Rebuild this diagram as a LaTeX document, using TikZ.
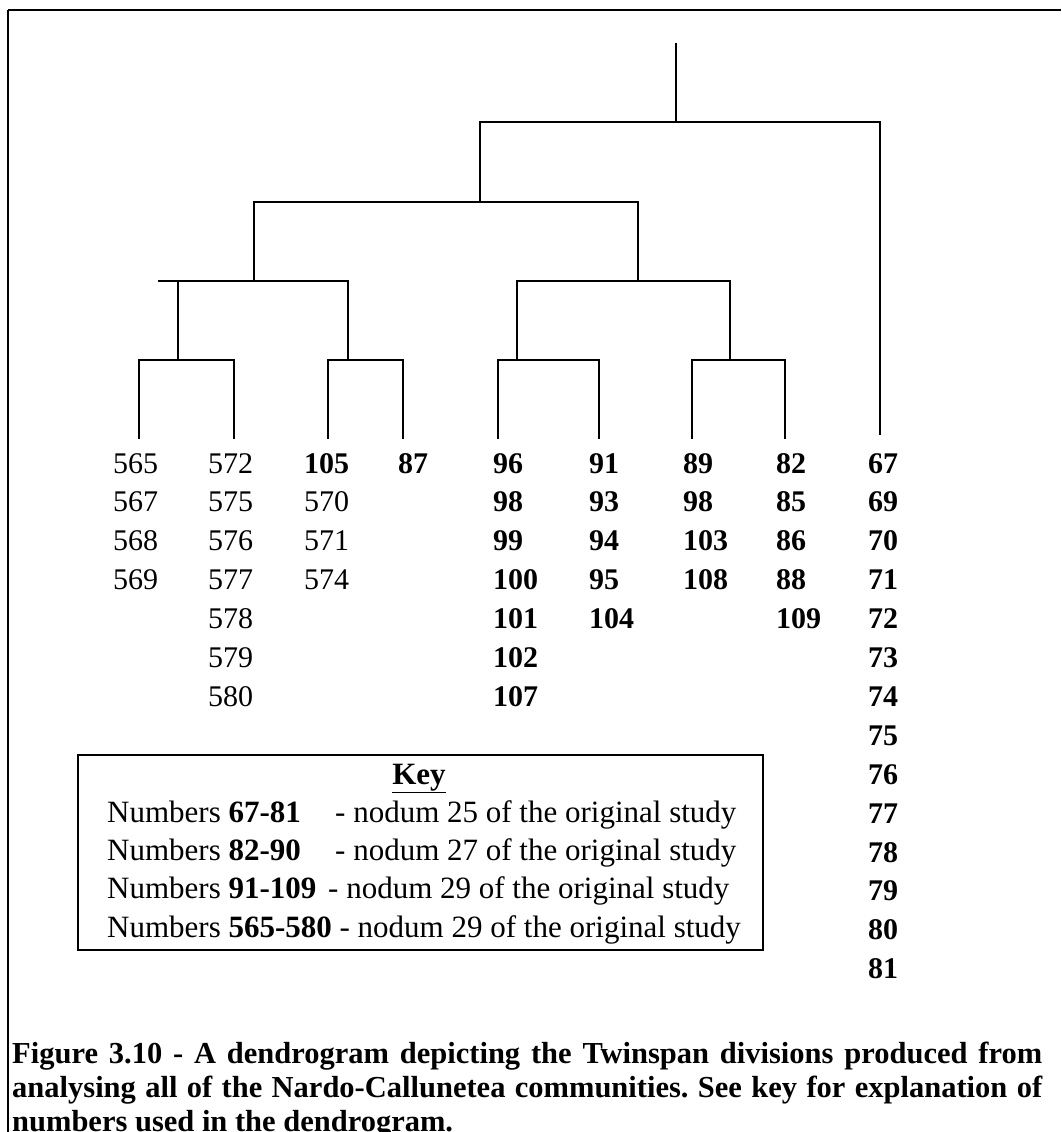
\documentclass[tikz,border=0pt]{standalone}
\usepackage{fontspec}
\setmainfont{Liberation Serif}
\frenchspacing
\begin{document}
\begin{tikzpicture}[x=1pt,y=-1pt,
  hbar/.style={line width=2.6pt,line cap=rect},
  vbar/.style={line width=2pt},
  framel/.style={line width=2.6pt},
  num/.style={anchor=base west,inner sep=0pt,font=\fontsize{30}{36}\selectfont},
  bnum/.style={num,font=\fontsize{30}{36}\selectfont\bfseries},
  keytext/.style={anchor=base west,inner sep=0pt,font=\fontsize{31}{36}\selectfont},
  captext/.style={anchor=base west,inner sep=0pt,font=\fontsize{30.5}{36}\selectfont\bfseries}]
\useasboundingbox (0,0) rectangle (1061,1132);
% frame (top and left edges visible)
\coordinate (fTL) at (8,10);
\coordinate (fTR) at (1061,10);
\coordinate (fBL) at (8,1132);
\draw[framel] (fTR) -- (fTL);
\draw[vbar] (fTL) -- (fBL);
% tree coordinates
\coordinate (top) at (676,43);
\coordinate (n1) at (676,122);
\coordinate (n1L) at (480,122);
\coordinate (n1R) at (880,122);
\coordinate (leafR) at (880,435);
\coordinate (n2) at (480,202);
\coordinate (n2L) at (254,202);
\coordinate (n2R) at (638,202);
\coordinate (n3a) at (254,281);
\coordinate (n3aE) at (159,281);
\coordinate (n3aL) at (178,281);
\coordinate (n3aR) at (348,281);
\coordinate (n3b) at (638,281);
\coordinate (n3bL) at (517,281);
\coordinate (n3bR) at (730,281);
\coordinate (n4a) at (178,360);
\coordinate (n4aL) at (139,360);
\coordinate (n4aR) at (234,360);
\coordinate (n4b) at (348,360);
\coordinate (n4bL) at (328,360);
\coordinate (n4bR) at (403,360);
\coordinate (n4c) at (517,360);
\coordinate (n4cL) at (498,360);
\coordinate (n4cR) at (599,360);
\coordinate (n4d) at (730,360);
\coordinate (n4dL) at (692,360);
\coordinate (n4dR) at (785,360);
\foreach \x/\n in {139/l1,234/l2,328/l3,403/l4,498/l5,599/l6,692/l7,785/l8}
  \coordinate (\n) at (\x,439);
% horizontal bars
\draw[hbar] (n1L) -- (n1R);
\draw[hbar] (n2L) -- (n2R);
\draw[hbar] (n3aE) -- (n3aR);
\draw[hbar] (n3bL) -- (n3bR);
\draw[hbar] (n4aL) -- (n4aR);
\draw[hbar] (n4bL) -- (n4bR);
\draw[hbar] (n4cL) -- (n4cR);
\draw[hbar] (n4dL) -- (n4dR);
% vertical branches
\draw[vbar] (top) -- (n1);
\draw[vbar] (n1L) -- (n2);
\draw[vbar] (n1R) -- (leafR);
\draw[vbar] (n2L) -- (n3a);
\draw[vbar] (n2R) -- (n3b);
\draw[vbar] (n3aL) -- (n4a);
\draw[vbar] (n3aR) -- (n4b);
\draw[vbar] (n3bL) -- (n4c);
\draw[vbar] (n3bR) -- (n4d);
\draw[vbar] (n4aL) -- (l1);
\draw[vbar] (n4aR) -- (l2);
\draw[vbar] (n4bL) -- (l3);
\draw[vbar] (n4bR) -- (l4);
\draw[vbar] (n4cL) -- (l5);
\draw[vbar] (n4cR) -- (l6);
\draw[vbar] (n4dL) -- (l7);
\draw[vbar] (n4dR) -- (l8);
% leaf number columns
\foreach \v [count=\i from 0] in {565,567,568,569}
  \node[num] (ca-\i) at (113,{473+38.9*\i}) {\v};
\foreach \v [count=\i from 0] in {572,575,576,577,578,579,580}
  \node[num] (cb-\i) at (208,{473+38.9*\i}) {\v};
\foreach \v [count=\i from 0] in {\textbf{105},570,571,574}
  \node[num] (cc-\i) at (304,{473+38.9*\i}) {\v};
\foreach \v [count=\i from 0] in {87}
  \node[bnum] (cd-\i) at (398,{473+38.9*\i}) {\v};
\foreach \v [count=\i from 0] in {96,98,99,100,101,102,107}
  \node[bnum] (ce-\i) at (493,{473+38.9*\i}) {\v};
\foreach \v [count=\i from 0] in {91,93,94,95,104}
  \node[bnum] (cf-\i) at (589,{473+38.9*\i}) {\v};
\foreach \v [count=\i from 0] in {89,98,103,108}
  \node[bnum] (cg-\i) at (683,{473+38.9*\i}) {\v};
\foreach \v [count=\i from 0] in {82,85,86,88,109}
  \node[bnum] (ch-\i) at (776,{473+38.9*\i}) {\v};
\foreach \v [count=\i from 0] in {67,69,70,71,72,73,74,75,76,77,78,79,80,81}
  \node[bnum] (ci-\i) at (868,{473+38.9*\i}) {\v};
% key box
\node[draw,line width=2pt,anchor=north west,minimum width=685pt,minimum height=195pt,inner sep=0pt] (keybox) at (77,754) {};
\node[keytext,anchor=base] (keytitle) at (419,784) {\textbf{\underline{Key}}};
\node[keytext] (k1a) at (107,822) {Numbers \textbf{67-81}};
\node[keytext] (k1b) at (335,822) {- nodum 25 of the original study};
\node[keytext] (k2a) at (107,860) {Numbers \textbf{82-90}};
\node[keytext] (k2b) at (335,860) {- nodum 27 of the original study};
\node[keytext] (k3a) at (107,898) {Numbers \textbf{91-109}};
\node[keytext] (k3b) at (328,898) {- nodum 29 of the original study};
\node[keytext] (k4) at (107,937) {Numbers \textbf{565-580} - nodum 29 of the original study};
% caption
\node[captext] (cap1) at (12,1063) {\makebox[1030pt][s]{Figure 3.10 - A dendrogram depicting the Twinspan divisions produced from}};
\node[captext] (cap2) at (12,1097) {\makebox[1030pt][s]{analysing all of the Nardo-Callunetea communities. See key for explanation of}};
\node[captext] (cap3) at (12,1131) {numbers used in the dendrogram.};
\end{tikzpicture}
\end{document}
